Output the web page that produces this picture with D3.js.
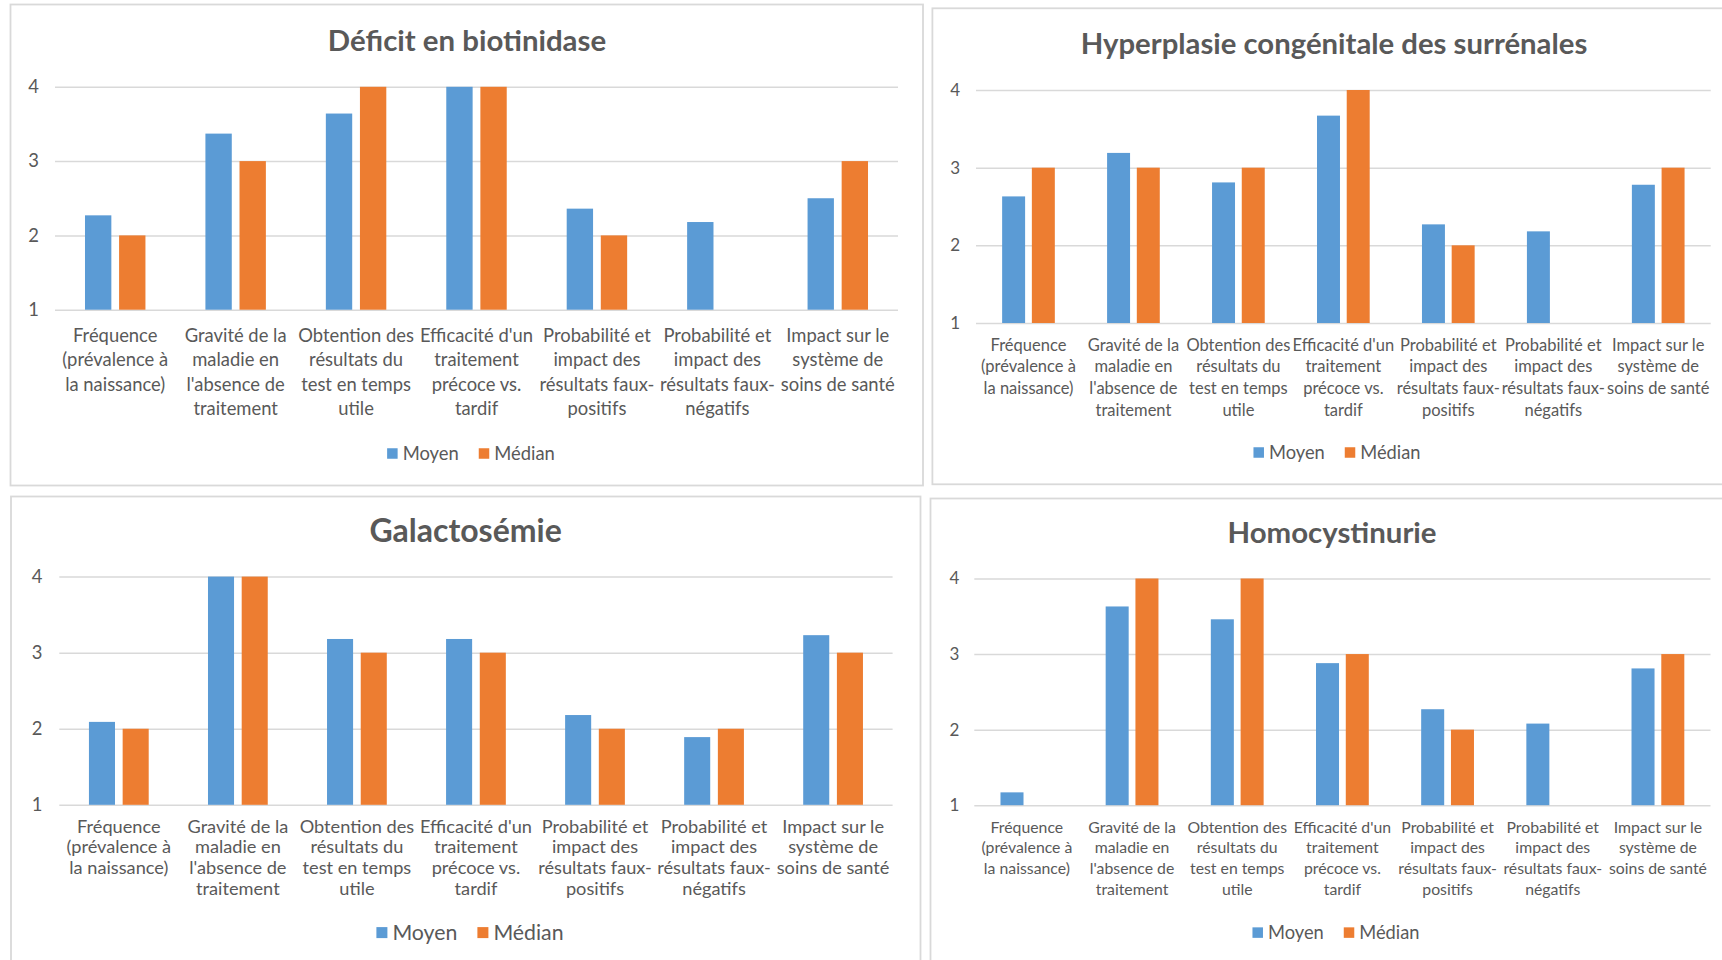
<!DOCTYPE html>
<html><head><meta charset="utf-8">
<script src="https://cdn.jsdelivr.net/npm/d3@7"></script>
<style>
html,body{margin:0;padding:0;background:#fff;overflow:hidden}
svg{display:block}
text{font-family:Lato,"Open Sans",sans-serif;fill:#595959}
</style></head><body>
<svg id="chart" width="1722" height="960"></svg>
<script>
// Category labels (pre-wrapped lines)
const categories = [
  ["Fréquence", "(prévalence à", "la naissance)"],
  ["Gravité de la", "maladie en", "l'absence de", "traitement"],
  ["Obtention des", "résultats du", "test en temps", "utile"],
  ["Efficacité d'un", "traitement", "précoce vs.", "tardif"],
  ["Probabilité et", "impact des", "résultats faux-", "positifs"],
  ["Probabilité et", "impact des", "résultats faux-", "négatifs"],
  ["Impact sur le", "système de", "soins de santé"]
];
const seriesNames = ["Moyen", "Médian"];
const yTicks = [1, 2, 3, 4];

const titles = ["Déficit en biotinidase", "Hyperplasie congénitale des surrénales", "Galactosémie", "Homocystinurie"];

const biotinidaseMoyen = [2.27, 3.37, 3.64, 4.00, 2.36, 2.18, 2.50];
const biotinidaseMedian = [2, 3, 4, 4, 2, 1, 3];
const hyperplasieMoyen = [2.63, 3.19, 2.81, 3.67, 2.27, 2.18, 2.78];
const hyperplasieMedian = [3, 3, 3, 4, 2, 1, 3];
const galactosemieMoyen = [2.09, 4.00, 3.18, 3.18, 2.18, 1.89, 3.23];
const galactosemieMedian = [2, 4, 3, 3, 2, 2, 3];
const homocystinurieMoyen = [1.17, 3.63, 3.46, 2.88, 2.27, 2.08, 2.81];
const homocystinurieMedian = [1, 4, 4, 3, 2, 1, 3];

const colors = {"Moyen": "#5B9BD5", "Médian": "#ED7D31"};

// Panel geometry
const layouts = [
  {box:[10.5,4.5,912.5,481], left:55, right:898, top:86.8, bottom:309.7, cx:467, titleY:50.6, titleFont:29.4,
   catFont:18.4, lineH:24.5, catY:341.5, tickFont:18.4, tickPad:16, legY:453.5, legCx:471, legFont:18.4, legSq:10.5, legGap:20},
  {box:[932.4,8.3,800,476], left:976, right:1710.7, top:90, bottom:323, cx:1334, titleY:54, titleFont:29.3,
   catFont:16.5, lineH:21.8, catY:350.5, tickFont:17, tickPad:16, legY:452.5, legCx:1337, legFont:18.3, legSq:10.5, legGap:20},
  {box:[11,496.5,909.5,480], left:59.3, right:892.6, top:576.6, bottom:804.8, cx:465.6, titleY:542, titleFont:32,
   catFont:18.2, lineH:20.9, catY:832.5, tickFont:18.4, tickPad:17, legY:932.6, legCx:470, legFont:21.3, legSq:11, legGap:20},
  {box:[930.5,498.5,800,480], left:974.3, right:1710.5, top:578.5, bottom:805.2, cx:1332, titleY:542.7, titleFont:29.4,
   catFont:15.8, lineH:20.9, catY:832.5, tickFont:17, tickPad:15, legY:932.6, legCx:1336, legFont:18.3, legSq:10.5, legGap:20}
];

const seriesByPanel = [
  [biotinidaseMoyen, biotinidaseMedian],
  [hyperplasieMoyen, hyperplasieMedian],
  [galactosemieMoyen, galactosemieMedian],
  [homocystinurieMoyen, homocystinurieMedian]
];

const svg = d3.select("#chart");

function drawPanel(title, series, p) {
  const g = svg.append("g");

  g.append("rect")
    .attr("x", p.box[0]).attr("y", p.box[1])
    .attr("width", p.box[2]).attr("height", p.box[3])
    .attr("fill", "#fff").attr("stroke", "#D9D9D9").attr("stroke-width", 1.8);

  const y = d3.scaleLinear().domain([1, 4]).range([p.bottom, p.top]);
  const x0 = d3.scaleBand().domain(d3.range(categories.length))
    .range([p.left, p.right]).paddingInner(0.498).paddingOuter(0.249);
  const x1 = d3.scaleBand().domain(seriesNames)
    .range([0, x0.bandwidth()]).paddingInner(0.227);

  // Horizontal gridlines + value labels
  const yAxis = d3.axisLeft(y).tickValues(yTicks)
    .tickSize(-(p.right - p.left)).tickPadding(p.tickPad).tickFormat(d3.format("d"));
  const ya = g.append("g").attr("transform", `translate(${p.left},0)`).call(yAxis);
  ya.attr("font-family", null).attr("font-size", null);
  ya.select(".domain").remove();
  ya.selectAll(".tick line").attr("stroke", "#D9D9D9").attr("stroke-width", 1.5);
  ya.selectAll(".tick text").attr("font-size", p.tickFont).attr("fill", "#595959");

  // Bars
  const rows = categories.map((c, i) => ({i, vals: seriesNames.map((k, s) => ({k, v: series[s][i]}))}));
  g.selectAll("g.cat").data(rows).join("g").attr("class", "cat")
    .attr("transform", d => `translate(${x0(d.i)},0)`)
    .selectAll("rect").data(d => d.vals).join("rect")
    .attr("x", d => x1(d.k)).attr("width", x1.bandwidth())
    .attr("y", d => y(d.v)).attr("height", d => y(1) - y(d.v))
    .attr("fill", d => colors[d.k]);

  // Category labels
  const lab = g.selectAll("text.cat").data(categories).join("text").attr("class", "cat")
    .attr("text-anchor", "middle").attr("font-size", p.catFont)
    .attr("transform", (d, i) => `translate(${x0(i) + x0.bandwidth() / 2},${p.catY})`);
  lab.selectAll("tspan").data(d => d).join("tspan")
    .attr("x", 0).attr("y", (d, j) => j * p.lineH).text(d => d);

  // Title
  g.append("text").attr("x", p.cx).attr("y", p.titleY)
    .attr("text-anchor", "middle").attr("font-size", p.titleFont).attr("font-weight", 700)
    .text(title);

  // Legend
  const sq = p.legSq, gapSq = 5, gapItem = p.legGap;
  const leg = g.append("g");
  const items = leg.selectAll("g").data(seriesNames).join("g");
  items.append("rect").attr("width", sq).attr("height", sq).attr("y", -sq / 2)
    .attr("fill", d => colors[d]);
  items.append("text").attr("x", sq + gapSq).attr("dy", "0.35em")
    .attr("font-size", p.legFont).text(d => d);
  let xPos = 0;
  items.each(function () {
    const w = sq + gapSq + d3.select(this).select("text").node().getComputedTextLength();
    d3.select(this).attr("transform", `translate(${xPos},0)`);
    xPos += w + gapItem;
  });
  const total = xPos - gapItem;
  leg.attr("transform", `translate(${p.legCx - total / 2},${p.legY})`);
}

titles.forEach((t, i) => drawPanel(t, seriesByPanel[i], layouts[i]));
</script>
</body></html>
